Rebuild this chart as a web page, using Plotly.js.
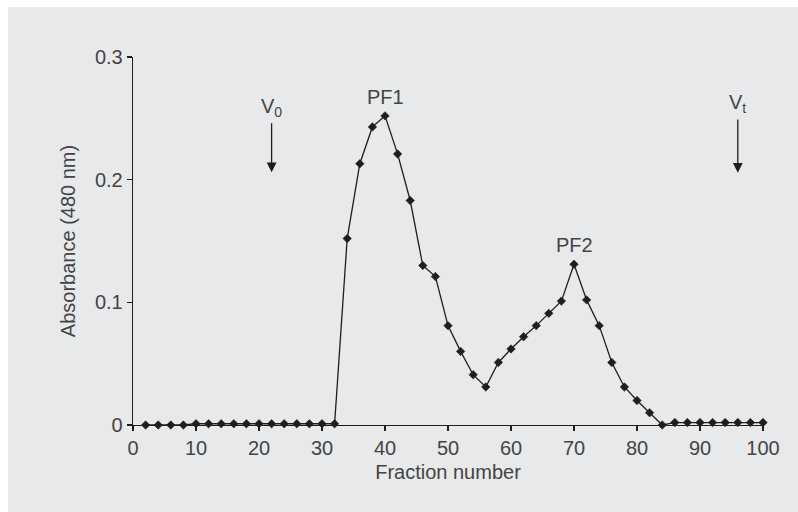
<!DOCTYPE html>
<html>
<head>
<meta charset="utf-8">
<script src="https://cdn.plot.ly/plotly-3.0.1.min.js"></script>
<style>
  html, body { margin: 0; padding: 0; background: #ffffff; width: 798px; height: 512px; overflow: hidden; }
  #chart { position: absolute; left: 8px; top: 7px; width: 790px; height: 505px; }
</style>
</head>
<body>
<div id="chart"></div>
<script>
// Fraction numbers (x)
const fractions = [2, 4, 6, 8, 10, 12, 14, 16, 18, 20, 22, 24, 26, 28, 30, 32,
                   34, 36, 38, 40, 42, 44, 46, 48, 50, 52, 54, 56, 58, 60, 62, 64,
                   66, 68, 70, 72, 74, 76, 78, 80, 82, 84, 86, 88, 90, 92, 94, 96, 98, 100];
// Absorbance at 480 nm (y)
const absorbance = [0, 0, 0, 0, 0.001, 0.001, 0.001, 0.001, 0.001, 0.001, 0.001, 0.001, 0.001, 0.001, 0.001, 0.001,
                    0.152, 0.213, 0.243, 0.252, 0.221, 0.183, 0.130, 0.121, 0.081, 0.060, 0.041, 0.031, 0.051, 0.062, 0.072, 0.081,
                    0.091, 0.101, 0.131, 0.102, 0.081, 0.051, 0.031, 0.020, 0.010, 0, 0.002, 0.002, 0.002, 0.002, 0.002, 0.002, 0.002, 0.002];
// Peak labels
const peakLabels = ["PF1", "PF2"];
const peakX = [40, 70];
const peakY = [0.267, 0.1465];
// Volume markers (void volume V0, total volume Vt): label above, arrow down to tip
const volLabels = ["V<sub>0</sub>", "V<sub>t</sub>"];
const volX = [22, 96];
const volLabelY = [0.259, 0.262];
const volTip = [0.206, 0.2057];
// Axis ticks
const xTicks = [0, 10, 20, 30, 40, 50, 60, 70, 80, 90, 100];
const yTicks = [0, 0.1, 0.2, 0.3];
const yTickText = ["0", "0.1", "0.2", "0.3"];

const textColor = "#444444";
const inkColor = "#1e1e1e";
const fontFam = "Liberation Sans, Arial, sans-serif";

const trace = {
  x: fractions,
  y: absorbance,
  type: "scatter",
  mode: "lines+markers",
  line: { color: inkColor, width: 1.3, shape: "linear" },
  marker: { symbol: "diamond", size: 6.5, color: inkColor, line: { color: inkColor, width: 0.6 } },
  cliponaxis: false,
  hoverinfo: "skip"
};

const annotations = [];
for (let i = 0; i < peakLabels.length; i++) {
  annotations.push({
    x: peakX[i], y: peakY[i], xref: "x", yref: "y",
    text: peakLabels[i], showarrow: false,
    xanchor: "center", yanchor: "middle",
    font: { family: fontFam, size: 20, color: textColor }
  });
}
for (let i = 0; i < volLabels.length; i++) {
  annotations.push({
    x: volX[i], y: volTip[i], xref: "x", yref: "y",
    ax: volX[i], ay: volLabelY[i], axref: "x", ayref: "y",
    text: volLabels[i], showarrow: true,
    arrowhead: 2, arrowsize: 1.5, arrowwidth: 1.3, arrowcolor: inkColor,
    standoff: 0, startstandoff: 2,
    font: { family: fontFam, size: 20, color: textColor }
  });
}

const layout = {
  width: 790,
  height: 505,
  margin: { l: 125, r: 35, t: 50, b: 87 },
  paper_bgcolor: "#e8e9eb",
  plot_bgcolor: "#e8e9eb",
  showlegend: false,
  font: { family: fontFam, size: 20, color: textColor },
  xaxis: {
    range: [0, 100],
    tickvals: xTicks,
    ticktext: xTicks.map(String),
    showgrid: false,
    zeroline: false,
    showline: true,
    linecolor: inkColor,
    linewidth: 1.3,
    ticks: "outside",
    ticklen: 5,
    tickwidth: 1.2,
    tickcolor: inkColor,
    tickfont: { family: fontFam, size: 20, color: textColor },
    title: { text: "Fraction number", font: { family: fontFam, size: 20, color: textColor }, standoff: 6 },
    automargin: false
  },
  yaxis: {
    range: [0, 0.3],
    tickvals: yTicks,
    ticktext: yTickText,
    showgrid: false,
    zeroline: false,
    showline: true,
    linecolor: inkColor,
    linewidth: 1.3,
    ticks: "outside",
    ticklen: 5,
    tickwidth: 1.2,
    tickcolor: inkColor,
    tickfont: { family: fontFam, size: 20, color: textColor },
    title: { text: "Absorbance (480 nm)", font: { family: fontFam, size: 20, color: textColor }, standoff: 14 },
    automargin: false
  },
  annotations: annotations
};

Plotly.newPlot("chart", [trace], layout, { displayModeBar: false, staticPlot: true });
</script>
</body>
</html>
